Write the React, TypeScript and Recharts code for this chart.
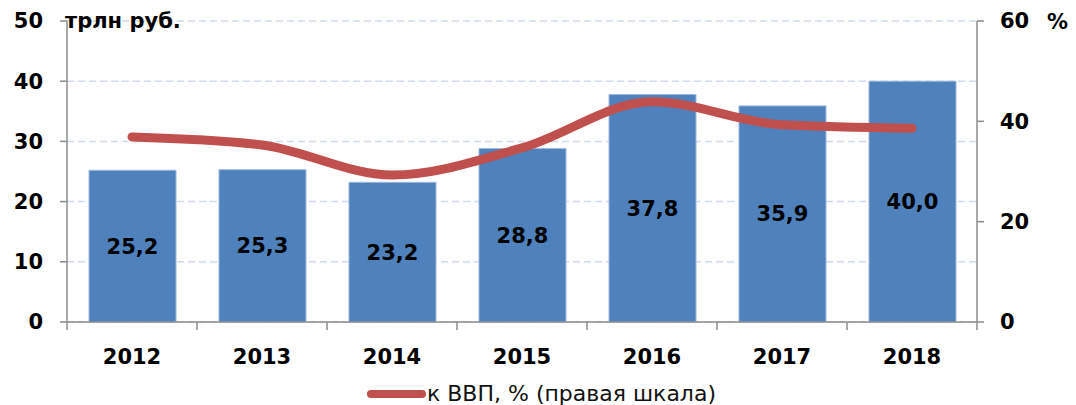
import React from 'react';
import {
  ComposedChart,
  Bar,
  Line,
  XAxis,
  YAxis,
  CartesianGrid,
  LabelList,
  Legend,
  Label,
} from 'recharts';

const years = ['2012', '2013', '2014', '2015', '2016', '2017', '2018'];
const debtTrln = [25.2, 25.3, 23.2, 28.8, 37.8, 35.9, 40.0];
const pctGdp = [36.9, 35.3, 29.3, 34.7, 43.9, 39.3, 38.6];
const leftTicks = [0, 10, 20, 30, 40, 50];
const rightTicks = [0, 20, 40, 60];
const leftUnit = 'трлн руб.';
const rightUnit = '%';
const legendText = 'к ВВП, % (правая шкала)';

const data = years.map((y, i) => ({ year: y, debt: debtTrln[i], pct: pctGdp[i] }));

const FONT = '"DejaVu Sans", Verdana, sans-serif';
const BAR = '#4F81BD';
const LINE = '#C0504D';
const AXIS = '#8c8c8c';

const fmt = (v: number) => v.toFixed(1).replace('.', ',');

const XTick = (props: any) => {
  const { x, y, payload, index, width, visibleTicksCount } = props;
  const half = width / visibleTicksCount / 2;
  const isLast = index === visibleTicksCount - 1;
  return (
    <g>
      <line x1={x - half} y1={y} x2={x - half} y2={y + 8} stroke={AXIS} strokeWidth={1.5} />
      {isLast && <line x1={x + half} y1={y} x2={x + half} y2={y + 8} stroke={AXIS} strokeWidth={1.5} />}
      <text
        x={x}
        y={y + 42}
        textAnchor="middle"
        fontFamily={FONT}
        fontSize={21}
        fontWeight="bold"
        fill="#000"
      >
        {payload.value}
      </text>
    </g>
  );
};

const LegendContent = () => (
  <div
    style={{
      display: 'flex',
      justifyContent: 'center',
      alignItems: 'center',
      height: 33,
      paddingTop: 10,
      boxSizing: 'border-box',
      fontFamily: FONT,
      fontSize: 22,
      color: '#111',
      paddingLeft: 6,
    }}
  >
    <svg width={61} height={12} style={{ marginRight: 0 }}>
      <line x1={5} y1={6} x2={56} y2={6} stroke={LINE} strokeWidth={8} strokeLinecap="round" />
    </svg>
    <span>{legendText}</span>
  </div>
);

export default function App() {
  return (
    <div style={{ position: 'absolute', left: 0, top: 0, background: '#fff' }}>
      <ComposedChart
        width={1076}
        height={405}
        data={data}
        margin={{ top: 21, right: 0, bottom: 0, left: 0 }}
      >
        <CartesianGrid
          yAxisId="left"
          vertical={false}
          stroke="#cfdcee"
          strokeDasharray="7 4"
          strokeWidth={1.5}
        />
        <XAxis
          dataKey="year"
          height={50}
          tickSize={0}
          tickMargin={0}
          tickLine={false}
          axisLine={{ stroke: AXIS, strokeWidth: 1.5 }}
          tick={<XTick />}
          interval={0}
        />
        <YAxis
          yAxisId="left"
          width={67}
          domain={[0, 50]}
          ticks={leftTicks}
          tickSize={7}
          tickMargin={17}
          axisLine={{ stroke: AXIS, strokeWidth: 1.5 }}
          tickLine={{ stroke: AXIS, strokeWidth: 1.5 }}
          tick={{ fontFamily: FONT, fontSize: 21, fontWeight: 'bold', fill: '#000' }}
        >
          <Label
            content={(p: any) => {
              const vb = p.viewBox || { x: 0, y: 21, width: 67 };
              return (
                <text
                  x={vb.x + vb.width - 2}
                  y={vb.y + 7}
                  fontFamily={FONT}
                  fontSize={21}
                  fontWeight="bold"
                  fill="#000"
                >
                  {leftUnit}
                </text>
              );
            }}
          />
        </YAxis>
        <YAxis
          yAxisId="right"
          orientation="right"
          width={99}
          domain={[0, 60]}
          ticks={rightTicks}
          tickSize={7}
          tickMargin={16}
          axisLine={{ stroke: AXIS, strokeWidth: 1.5 }}
          tickLine={{ stroke: AXIS, strokeWidth: 1.5 }}
          tick={{ fontFamily: FONT, fontSize: 21, fontWeight: 'bold', fill: '#000' }}
        >
          <Label
            content={(p: any) => {
              const vb = p.viewBox || { x: 977, y: 21, width: 99 };
              return (
                <text
                  x={vb.x + 70}
                  y={vb.y + 8}
                  fontFamily={FONT}
                  fontSize={21}
                  fontWeight="bold"
                  fill="#000"
                >
                  {rightUnit}
                </text>
              );
            }}
          />
        </YAxis>
        <Legend verticalAlign="bottom" height={33} content={<LegendContent />} />
        <Bar
          yAxisId="left"
          dataKey="debt"
          fill={BAR}
          stroke="#9db8dc"
          strokeWidth={1}
          barSize={87}
          isAnimationActive={false}
        >
          <LabelList
            dataKey="debt"
            position="center"
            formatter={(v: any) => fmt(Number(v))}
            style={{ fontFamily: FONT, fontSize: 21, fontWeight: 'bold', fill: '#000' }}
          />
        </Bar>
        <Line
          yAxisId="right"
          type="monotone"
          dataKey="pct"
          stroke={LINE}
          strokeWidth={9}
          strokeLinecap="round"
          strokeLinejoin="round"
          dot={false}
          activeDot={false}
          isAnimationActive={false}
        />
      </ComposedChart>
    </div>
  );
}
